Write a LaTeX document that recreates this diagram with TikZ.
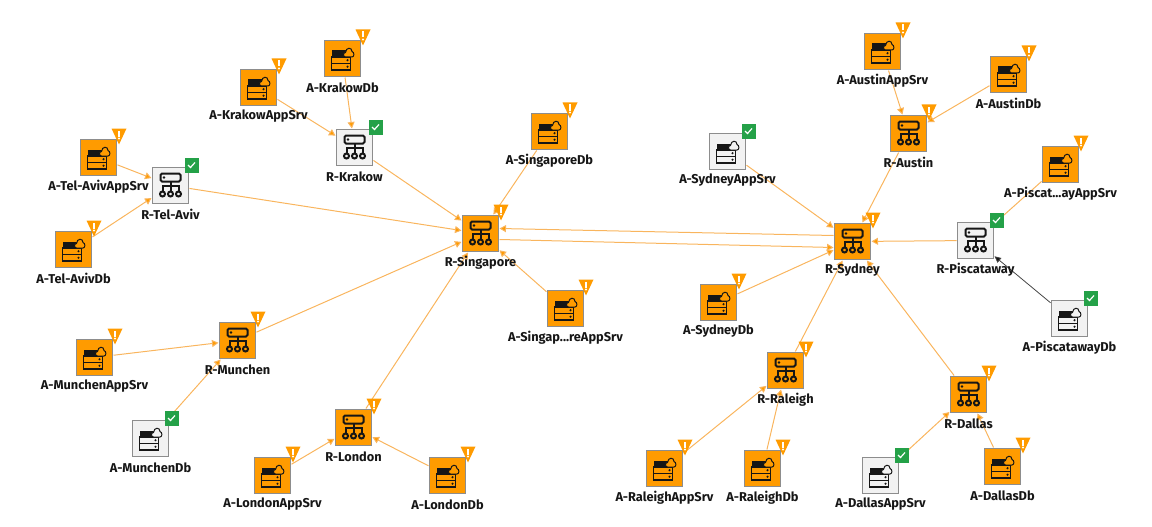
\documentclass[tikz,border=0pt]{standalone}
\usepackage{fontspec}
\setsansfont{Fira Sans}
\usetikzlibrary{arrows.meta,backgrounds}

\definecolor{warnfill}{HTML}{FF9B00}
\definecolor{okfill}{HTML}{F2F2F2}
\definecolor{edgeline}{HTML}{F9B55E}
\definecolor{boxline}{HTML}{8D8D8D}
\definecolor{okgreen}{HTML}{24A148}
\definecolor{iconink}{HTML}{161616}

\tikzset{
    devbox/.style={minimum size=36pt,inner sep=0pt,outer sep=1pt,draw=boxline,line width=1.3pt},
    warnbox/.style={devbox,fill=warnfill},
    okbox/.style={devbox,fill=okfill},
    devlabel/.style={font=\sffamily\bfseries\fontsize{12.8}{15}\selectfont,text=iconink,inner sep=0pt},
    link/.style={draw=edgeline,line width=1pt,-{Triangle[length=6.5pt,width=7pt,fill=warnfill]}},
    darklink/.style={draw=iconink!80,line width=0.8pt,-{Triangle[length=6.5pt,width=6pt,fill=iconink]}},
    pics/routericon/.style={code={
        \draw[iconink,line width=2pt,rounded corners=1.5pt] (-10,-12) rectangle (10,-4);
        \fill[iconink] (-6.5,-8) circle[radius=1.3pt];
        \draw[iconink,line width=2pt] (0,-4) -- (0,6);
        \draw[iconink,line width=2pt] (-8,6) -- (-8,0.5) -- (8,0.5) -- (8,6);
        \foreach \px in {-8,0,8}
            \draw[iconink,line width=2pt,fill=iconbg] (\px,8.5) circle[radius=2.5pt];
    }},
    pics/appicon/.style={code={
        \fill[iconink] (-11,-8) rectangle (8,-1.5);
        \draw[iconink,line width=1.2pt] (-11,-1.5) rectangle (8,5);
        \draw[iconink,line width=1.2pt] (-11,5) rectangle (8,11.5);
        \fill[iconink] (5,1.7) circle[radius=1.2pt];
        \fill[iconink] (5,8.2) circle[radius=1.2pt];
        \draw[iconink,line width=1pt,fill=iconbg] (3,-1.5) .. controls (0.5,-1.5) and (0.3,-6) .. (3,-6)
            .. controls (3.5,-11.5) and (9.5,-11.5) .. (9.5,-7)
            .. controls (12,-6.5) and (12,-1.5) .. (9.5,-1.5) -- cycle;
    }},
    pics/warnbadge/.style={code={
        \fill[warnfill] (13,-29) -- (28,-29) -- (20.5,-13) -- cycle;
        \fill[white] (19.6,-27) rectangle (21.4,-21);
        \fill[white] (20.5,-19) circle[radius=1.1pt];
    }},
    pics/okbadge/.style={code={
        \fill[okgreen] (14,-28) rectangle (28,-13);
        \draw[white,line width=1.2pt] (17.5,-20.5) -- (20,-18) -- (24.5,-23);
    }},
}

% state, icon, node name, x, y, text
\newcommand{\device}[6]{
    \colorlet{iconbg}{#1fill}
    \node[#1box] (#3) at (#4+0.5,#5+0.5) {};
    \pic at (#3) {#2};
    \pic at (#3) {#1badge};
    \node[devlabel] (#3-text) at (#4+0.5,#5+29.5) {#6};
}

\begin{document}
\begin{tikzpicture}[x=1pt,y=-1pt]
    \useasboundingbox (0,0) rectangle (1152,527);
    % Left part, around R-Singapore
    \device{warn}{appicon}{akrakowdb}{342}{58}{A-KrakowDb}
    \device{warn}{appicon}{akrakowapp}{258}{87}{A-KrakowAppSrv}
    \device{ok}{routericon}{rkrakow}{354}{147}{R-Krakow}
    \device{warn}{appicon}{atelavivapp}{98}{157}{A-Tel-AvivAppSrv}
    \device{ok}{routericon}{rtelaviv}{170}{185}{R-Tel-Aviv}
    \device{warn}{appicon}{atelavivdb}{73}{249}{A-Tel-AvivDb}
    \device{warn}{appicon}{asingdb}{549}{131}{A-SingaporeDb}
    \device{warn}{routericon}{rsing}{480}{233}{R-Singapore}
    \device{warn}{appicon}{asingapp}{565}{308}{A-Singap...reAppSrv}
    \device{warn}{appicon}{amunchenapp}{94}{357}{A-MunchenAppSrv}
    \device{warn}{routericon}{rmunchen}{237}{340}{R-Munchen}
    \device{ok}{appicon}{amunchendb}{150}{438}{A-MunchenDb}
    \device{warn}{routericon}{rlondon}{353}{427}{R-London}
    \device{warn}{appicon}{alondonapp}{272}{475}{A-LondonAppSrv}
    \device{warn}{appicon}{alondondb}{447}{475}{A-LondonDb}
    % Right part, around R-Sydney
    \device{ok}{appicon}{asydneyapp}{727}{151}{A-SydneyAppSrv}
    \device{warn}{appicon}{aaustinapp}{882}{51}{A-AustinAppSrv}
    \device{warn}{appicon}{aaustindb}{1008}{74}{A-AustinDb}
    \device{warn}{routericon}{raustin}{908}{133}{R-Austin}
    \device{warn}{appicon}{apiscatapp}{1060}{164}{A-Piscat...ayAppSrv}
    \device{warn}{routericon}{rsydney}{852}{241}{R-Sydney}
    \device{ok}{routericon}{rpiscat}{975}{240}{R-Piscataway}
    \device{ok}{appicon}{apiscatdb}{1069}{318}{A-PiscatawayDb}
    \device{warn}{appicon}{asydneydb}{718}{302}{A-SydneyDb}
    \device{warn}{routericon}{rraleigh}{785}{370}{R-Raleigh}
    \device{warn}{routericon}{rdallas}{968}{394}{R-Dallas}
    \device{warn}{appicon}{araleighapp}{664}{468}{A-RaleighAppSrv}
    \device{warn}{appicon}{araleighdb}{762}{468}{A-RaleighDb}
    \device{ok}{appicon}{adallasapp}{880}{475}{A-DallasAppSrv}
    \device{warn}{appicon}{adallasdb}{1002}{466}{A-DallasDb}
    % Connectors go under the boxes and badges
    \begin{scope}[on background layer]
        \foreach \src/\dst in {akrakowdb/rkrakow,akrakowapp/rkrakow,rkrakow/rsing,
            atelavivapp/rtelaviv,atelavivdb/rtelaviv,rtelaviv/rsing,asingdb/rsing,asingapp/rsing,
            amunchenapp/rmunchen,amunchendb/rmunchen,rmunchen/rsing,rlondon/rsing,
            alondonapp/rlondon,alondondb/rlondon,asydneyapp/rsydney,aaustinapp/raustin,
            aaustindb/raustin,raustin/rsydney,apiscatapp/rpiscat,rpiscat/rsydney,
            asydneydb/rsydney,rraleigh/rsydney,rdallas/rsydney,araleighapp/rraleigh,
            araleighdb/rraleigh,adallasapp/rdallas,adallasdb/rdallas}
            \draw[link] (\src) -- (\dst);
        \draw[darklink] (apiscatdb) -- (rpiscat);
        % The two directions between the hubs
        \draw[link] ([yshift=6pt]rsydney.west) -- ([yshift=5pt]rsing.east);
        \draw[link] ([yshift=-6pt]rsing.east) -- ([yshift=-6pt]rsydney.west);
    \end{scope}
\end{tikzpicture}
\end{document}
